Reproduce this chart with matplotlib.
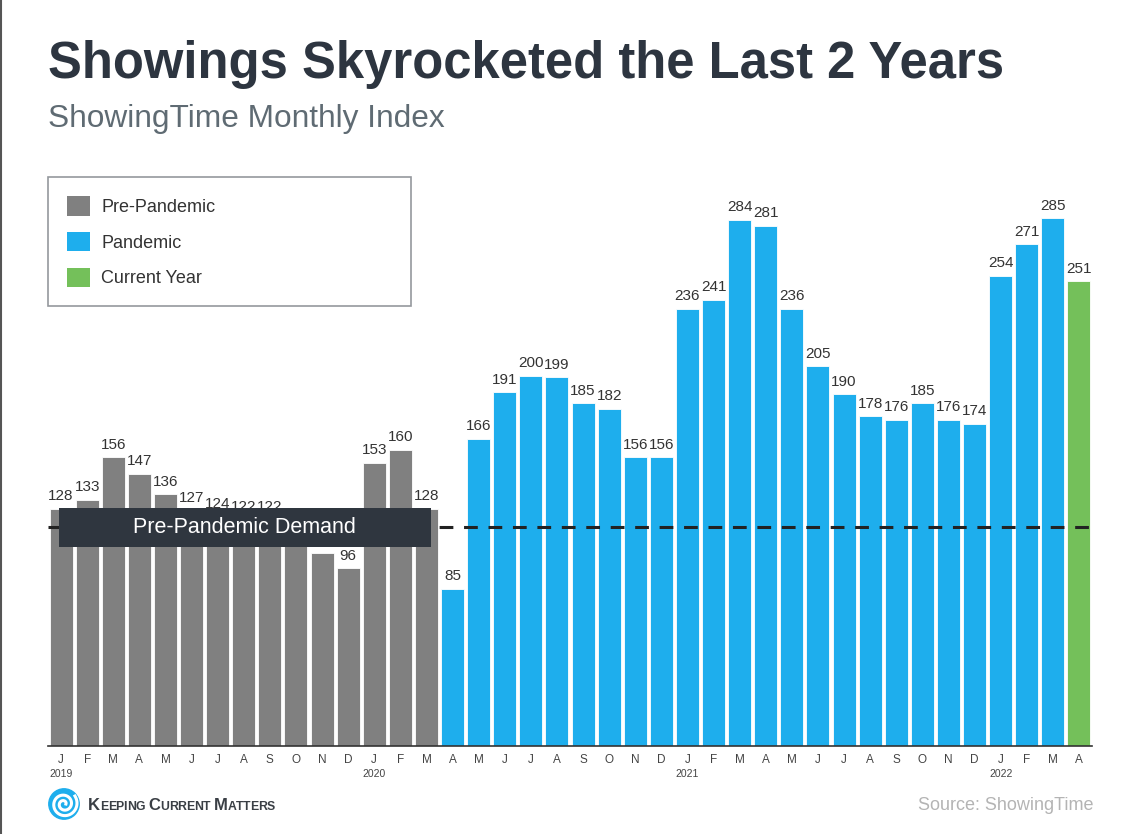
import matplotlib
matplotlib.use("Agg")
import matplotlib.pyplot as plt
from matplotlib.patches import Patch, Rectangle
import numpy as np

plt.rcParams['font.family'] = ['Liberation Sans', 'DejaVu Sans']

months = ["J","F","M","A","M","J","J","A","S","O","N","D",
          "J","F","M","A","M","J","J","A","S","O","N","D",
          "J","F","M","A","M","J","J","A","S","O","N","D",
          "J","F","M","A"]
years = {0: "2019", 12: "2020", 24: "2021", 36: "2022"}
values = [128, 133, 156, 147, 136, 127, 124, 122, 122, 116, 104, 96,
          153, 160, 128, 85, 166, 191, 200, 199, 185, 182, 156, 156,
          236, 241, 284, 281, 236, 205, 190, 178, 176, 185, 176, 174,
          254, 271, 285, 251]
period = ["pre"] * 15 + ["pan"] * 24 + ["cur"]
colors_map = {"pre": "#808080", "pan": "#1eaeed", "cur": "#74c05a"}
labels_map = {"pre": "Pre-Pandemic", "pan": "Pandemic", "cur": "Current Year"}
pre_pandemic_demand = 118
hidden_labels = {9, 10}

W, H = 1140, 834
fig = plt.figure(figsize=(W / 100, H / 100), dpi=100)
fig.patch.set_facecolor("white")

def fx(px):
    return px / W

def fy(py):
    return 1 - py / H

ax = fig.add_axes([fx(48), fy(746), fx(1092) - fx(48), fy(180) - fy(746)])
x = np.arange(len(values))
cols = [colors_map[p] for p in period]
ax.bar(x, values, width=0.88, color=cols, edgecolor="white", linewidth=0.6, zorder=2)
ax.set_xlim(-0.5, len(values) - 0.5)
ax.set_ylim(0, 305.6)
for s in ["top", "right", "left"]:
    ax.spines[s].set_visible(False)
ax.spines["bottom"].set_color("#333333")
ax.spines["bottom"].set_linewidth(1.2)
ax.set_yticks([])
ax.set_xticks(x)
ax.set_xticklabels(months, fontsize=8.5, color="#444444")
ax.tick_params(axis="x", length=0, pad=6)
for i, y in years.items():
    ax.annotate(y, xy=(i, 0), xytext=(0, -24), textcoords="offset points",
                ha="center", va="bottom", fontsize=7.5, color="#444444",
                annotation_clip=False)

for i, v in enumerate(values):
    if i in hidden_labels:
        continue
    ax.annotate(str(v), xy=(i, v), xytext=(0, 4), textcoords="offset points",
                ha="center", va="bottom", fontsize=11, color="#333333", zorder=3)

ax.axhline(pre_pandemic_demand, color="#222222", linestyle=(0, (4.5, 3.5)),
           linewidth=2.2, zorder=4)

# Pre-Pandemic Demand box
ax.add_patch(Rectangle((-0.08, pre_pandemic_demand - 10.3), 14.25, 20.6,
                       facecolor="#2f363f", edgecolor="none", zorder=5))
ax.text((-0.08 + 14.17) / 2, pre_pandemic_demand, "Pre-Pandemic Demand",
        ha="center", va="center", color="white", fontsize=15.5, zorder=6)

# Legend
handles = [Patch(facecolor=colors_map[k], edgecolor="none", label=labels_map[k])
           for k in ["pre", "pan", "cur"]]
leg = fig.legend(handles=handles, loc="upper left",
                 bbox_to_anchor=(fx(48), fy(177), fx(411) - fx(48), 0.0),
                 mode="expand", fontsize=13, frameon=True, fancybox=False,
                 borderpad=1.05, labelspacing=0.88, handlelength=1.3,
                 handleheight=1.3, handletextpad=0.6, borderaxespad=0)
leg.get_frame().set_edgecolor("#7a7f85")
leg.get_frame().set_linewidth(1.2)
for t in leg.get_texts():
    t.set_color("#333333")

# Titles
fig.text(fx(48), fy(78), "Showings Skyrocketed the Last 2 Years", fontsize=36.5,
         fontweight="bold", color="#2d3540", ha="left", va="baseline")
fig.text(fx(48), fy(127), "ShowingTime Monthly Index", fontsize=22.8,
         color="#5f6b73", ha="left", va="baseline")

# Footer
fig.text(fx(1093), fy(810), "Source: ShowingTime", fontsize=13, color="#b4b4b4",
         ha="right", va="baseline")

# Logo swirl
lax = fig.add_axes([fx(48), fy(820), fx(80) - fx(48), fy(788) - fy(820)])
lax.set_xlim(-1, 1); lax.set_ylim(-1, 1); lax.axis("off")
lax.add_patch(plt.Circle((0, 0), 0.95, color="#1eaeed"))
th = np.linspace(0, 4.2 * np.pi, 300)
r = 0.12 + 0.055 * th
lax.plot(r * np.cos(th), r * np.sin(th), color="white", linewidth=2.2)

# Small-caps brand text
fig.canvas.draw()
renderer = fig.canvas.get_renderer()
xpos = fx(88)
ybase = fy(810)
for word in ["Keeping", "Current", "Matters"]:
    for j, ch in enumerate(word):
        big = j == 0
        t = fig.text(xpos, ybase, ch.upper(), fontsize=12 if big else 8.8,
                     color="#3a3f45", ha="left", va="baseline", fontweight="bold")
        bb = t.get_window_extent(renderer)
        xpos += bb.width / W - 0.3 / W
    xpos += 4 / W

# Left edge line (screenshot border)
fig.add_artist(plt.Line2D([0.001, 0.001], [0, 1], color="#555555", linewidth=1.5))

fig.savefig("out.png", dpi=100, facecolor="white")
